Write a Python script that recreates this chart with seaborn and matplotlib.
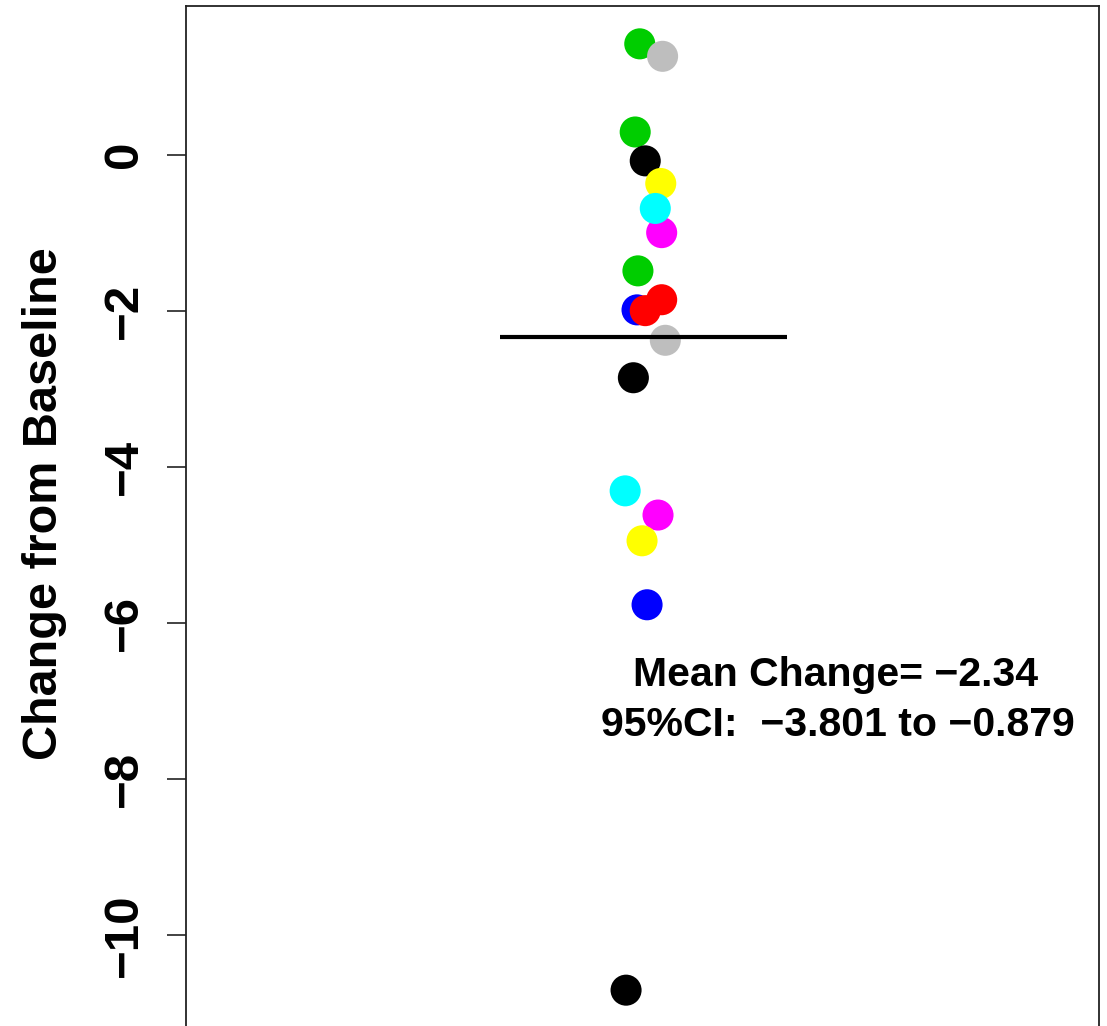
import matplotlib
matplotlib.use("Agg")
import matplotlib.pyplot as plt
import seaborn as sns
import pandas as pd
import numpy as np

# Data (drawing order preserved)
values = [1.42, 1.26, 0.29, -0.08, -1.0, -0.37, -0.69, -1.49, -1.99, -2.0, -1.86,
          -2.38, -2.86, -4.31, -4.62, -4.95, -5.77, -10.71]
jitter = [0.997, 1.022, 0.992, 1.003, 1.021, 1.020, 1.014, 0.995, 0.994, 1.003, 1.021,
          1.025, 0.990, 0.981, 1.017, 0.9995, 1.005, 0.982]
colors = ["#00CD00", "#BEBEBE", "#00CD00", "#000000", "#FF00FF", "#FFFF00", "#00FFFF",
          "#00CD00", "#0000FF", "#FF0000", "#FF0000", "#BEBEBE", "#000000", "#00FFFF",
          "#FF00FF", "#FFFF00", "#0000FF", "#000000"]
yticks = [0, -2, -4, -6, -8, -10]
mean_label = "Mean Change= \u22122.34"
ci_label = "95%CI:  \u22123.801 to \u22120.879"

sns.set_style("white")
plt.rcParams['font.family'] = ['Liberation Sans', 'DejaVu Sans']
plt.rcParams['text.color'] = 'black'
plt.rcParams['axes.labelcolor'] = 'black'
plt.rcParams['ytick.color'] = 'black'

df = pd.DataFrame({"x": jitter, "y": values, "c": [str(i) for i in range(len(values))]})
pal = {str(i): c for i, c in enumerate(colors)}

fig = plt.figure(figsize=(11.07, 10.26), dpi=100)
ax = fig.add_axes([186/1107, -2/1026, (1099-186)/1107, (1028-6)/1026])

sns.scatterplot(data=df, x="x", y="y", hue="c", palette=pal, legend=False,
                s=500, linewidth=0, ax=ax)

mean_val = float(np.mean(values))
ax.hlines(mean_val, 0.844, 1.158, color="black", linewidth=3)

ax.text(1.212, -6.67, mean_label, ha="center", va="center", fontsize=29.5,
        fontweight="bold", color="black")
ax.text(1.214, -7.31, ci_label, ha="center", va="center", fontsize=29.5,
        fontweight="bold", color="black")

ax.set_xlim(0.5, 1.5)
ax.set_ylim(-11.195, 1.905)
ax.set_xticks([])
ax.set_xlabel("")
ax.set_yticks(yticks)
ax.set_yticklabels([str(t).replace("-", "\u2212") for t in yticks], rotation=90,
                   va="center", fontsize=35.5, fontweight="bold", color="black")
ax.tick_params(axis="y", length=14, width=1.2, pad=14, left=True, color="#222222")
ax.set_ylabel("Change from Baseline", fontsize=35, fontweight="bold", color="black")
ax.yaxis.set_label_coords(-(186-67)/913, (1028-504)/1022)
for sp in ax.spines.values():
    sp.set_linewidth(1.3)
    sp.set_color("#222222")

fig.savefig("out.png", dpi=100)
